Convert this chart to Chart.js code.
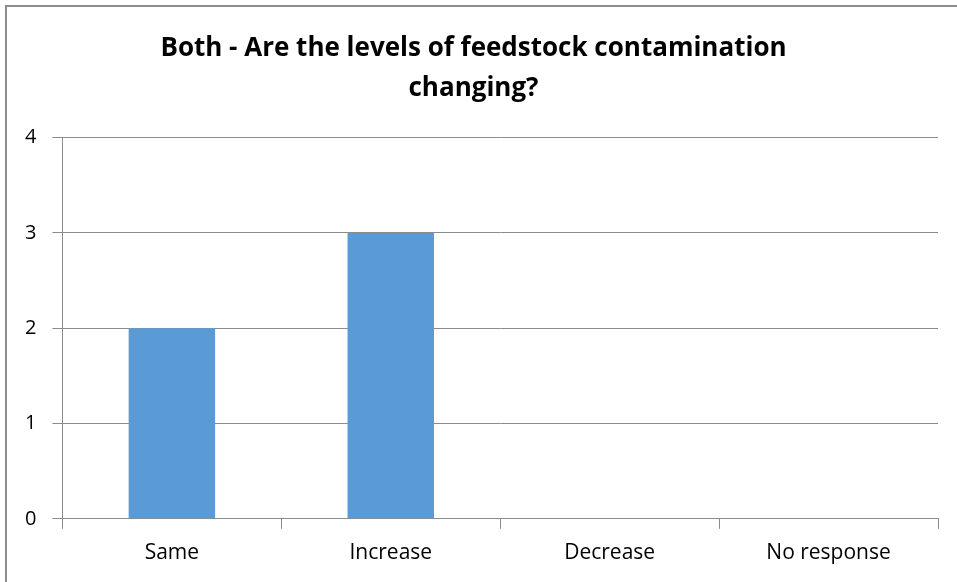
<!DOCTYPE html>
<html lang="en">
<head>
    <meta charset="UTF-8">
    <title>Both - Are the levels of feedstock contamination changing?</title>
    <script src="https://cdn.jsdelivr.net/npm/chart.js"></script>
    <style>
        html, body { margin: 0; padding: 0; background: #fff; overflow: hidden; }
        #frame {
            position: absolute; left: 5px; top: 5px; width: 960px; height: 600px;
            border-left: 2px solid #8c8c8c; border-top: 2px solid #8c8c8c;
        }
        #wrap { position: absolute; left: 0; top: 0; width: 957px; height: 582px; }
    </style>
</head>
<body>
    <div id="frame"></div>
    <div id="wrap"><canvas id="grafico" width="957" height="582"></canvas></div>

    <script>
        // Responses per category
        const categorias = ['Same', 'Increase', 'Decrease', 'No response'];
        const respostas = [2, 3, 0, 0];
        const tituloLinhas = ['Both - Are the levels of feedstock contamination', 'changing?'];

        const fonte = "'Liberation Sans Narrow', 'Open Sans', sans-serif";
        const cinza = '#8c8c8c';

        const ctx = document.getElementById('grafico').getContext('2d');
        new Chart(ctx, {
            type: 'bar',
            data: {
                labels: categorias,
                datasets: [{
                    data: respostas,
                    backgroundColor: '#5b9bd5',
                    borderWidth: 0,
                    categoryPercentage: 1,
                    barPercentage: 0.395
                }]
            },
            options: {
                responsive: false,
                animation: false,
                layout: { padding: { left: 9, right: 19, top: 0, bottom: 4 } },
                plugins: {
                    legend: { display: false },
                    tooltip: { enabled: false },
                    title: {
                        display: true,
                        text: tituloLinhas,
                        color: '#000',
                        font: { family: fonte, size: 26, weight: 'bold', lineHeight: 1.55 },
                        padding: { top: 28, bottom: 29 }
                    }
                },
                scales: {
                    x: {
                        grid: {
                            offset: true,
                            drawOnChartArea: false,
                            drawTicks: true,
                            tickLength: 10,
                            color: cinza
                        },
                        border: { color: cinza },
                        ticks: { color: '#000', font: { family: fonte, size: 21 }, padding: 12 }
                    },
                    y: {
                        min: 0,
                        max: 4,
                        grid: { color: cinza, tickLength: 10 },
                        border: { color: cinza },
                        ticks: { stepSize: 1, color: '#000', font: { family: fonte, size: 20 }, padding: 16 }
                    }
                }
            }
        });
    </script>
</body>
</html>
